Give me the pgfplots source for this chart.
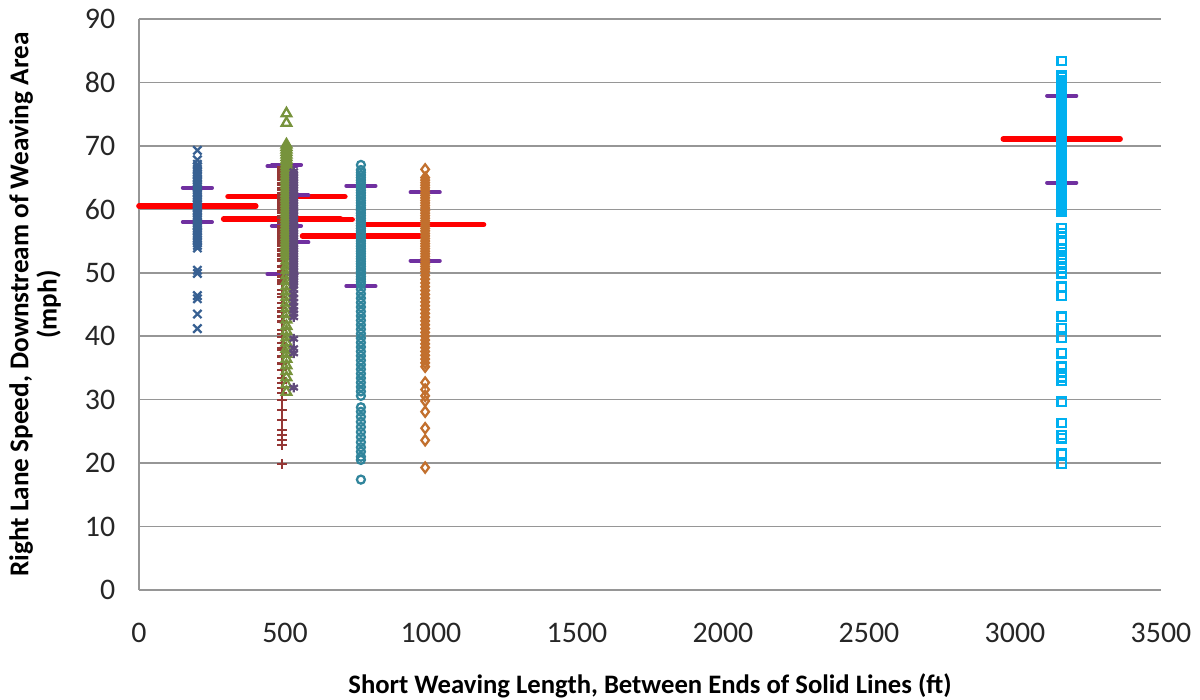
\documentclass[border=0pt]{standalone}
\usepackage{pgfplots}
\pgfplotsset{compat=1.18}
\usepackage{fontspec}
\setmainfont{Carlito}

\definecolor{sBlue}{HTML}{376092}
\definecolor{sMaroon}{HTML}{953735}
\definecolor{sGreen}{HTML}{77933C}
\definecolor{sPurple}{HTML}{604A7B}
\definecolor{sTeal}{HTML}{31859C}
\definecolor{sOrange}{RGB}{194,112,46}
\definecolor{sCyan}{HTML}{00B0F0}
\definecolor{pctPurple}{HTML}{7030A0}
\definecolor{gridGray}{RGB}{150,150,150}

\begin{document}
\begin{tikzpicture}
\useasboundingbox (-52.125pt,-41.25pt) rectangle (397.875pt,221.25pt);
\begin{axis}[
  at={(0,0)}, anchor=south west,
  scale only axis,
  width=383.25pt, height=214.125pt,
  xmin=0, xmax=3500, ymin=0, ymax=90,
  xtick={0,500,...,3500}, ytick={0,10,...,90},
  axis lines*=left,
  axis line style={gridGray, line width=0.6pt},
  ymajorgrids,
  grid style={gridGray, line width=0.6pt},
  major tick length=0pt,
  tick label style={font=\fontsize{11.2}{13}\selectfont, text=black!85},
  /pgf/number format/assume math mode=true,
  /pgf/number format/1000 sep={},
  xticklabel style={yshift=-9pt},
  yticklabel style={xshift=-5.4pt},
  xlabel={Short Weaving Length, Between Ends of Solid Lines (ft)},
  ylabel={Right Lane Speed, Downstream of Weaving Area\\(mph)},
  xlabel style={font=\bfseries\fontsize{10}{12}\selectfont, at={(axis description cs:0.5,0)}, anchor=center, yshift=-36pt},
  ylabel style={font=\bfseries\fontsize{10.2}{10.6}\selectfont, align=center, at={(axis description cs:0,0.5)}, anchor=center, yshift=39pt},
  clip=false,
  every axis plot/.append style={line width=0.85pt},
  meanline/.style={red, line width=2.1pt, line cap=round, no marks},
  pctline/.style={pctPurple, line width=1.5pt, line cap=round, no marks},
]

% 200 ft site
\addplot[only marks, mark=x, mark size=2.2pt, sBlue] coordinates {
(200,53.9)(200,54.3)(200,54.7)(200,55.1)(200,55.5)(200,55.9)(200,56.3)(200,56.7)(200,57.1)(200,57.5)
(200,57.9)(200,58.3)(200,58.7)(200,59.1)(200,59.5)(200,59.9)(200,60.3)(200,60.7)(200,61.1)(200,61.5)
(200,61.9)(200,62.3)(200,62.7)(200,63.1)(200,63.5)(200,63.9)(200,64.3)(200,64.7)(200,65.1)(200,65.5)
(200,65.9)(200,66.3)(200,66.7)(200,67.1)
(200,41.2)(200,43.5)(200,45.9)(200,46.4)(200,49.9)(200,50.4)(200,67.8)(200,69.3)
};

% 760 ft site
\addplot[only marks, mark=o, mark size=1.5pt, sTeal] coordinates {
(760,48.2)(760,48.6)(760,49.0)(760,49.4)(760,49.8)(760,50.2)(760,50.6)(760,51.0)(760,51.4)(760,51.8)
(760,52.2)(760,52.6)(760,53.0)(760,53.4)(760,53.8)(760,54.2)(760,54.6)(760,55.0)(760,55.4)(760,55.8)
(760,56.2)(760,56.6)(760,57.0)(760,57.4)(760,57.8)(760,58.2)(760,58.6)(760,59.0)(760,59.4)(760,59.8)
(760,60.2)(760,60.6)(760,61.0)(760,61.4)(760,61.8)(760,62.2)(760,62.6)(760,63.0)(760,63.4)(760,63.8)
(760,64.2)(760,64.6)(760,65.0)(760,65.4)(760,65.8)(760,66.2)
(760,30.6)(760,31.3)(760,32.0)(760,32.7)(760,33.4)(760,34.1)(760,34.8)(760,35.5)(760,36.2)(760,36.9)
(760,37.6)(760,38.3)(760,39.0)(760,39.7)(760,40.4)(760,41.1)(760,41.8)(760,42.5)(760,43.2)(760,43.9)
(760,44.6)(760,45.3)(760,46.0)(760,46.7)(760,47.4)
(760,67.0)(760,28.8)(760,28.1)(760,27.3)(760,26.5)(760,25.7)(760,24.9)(760,24.1)(760,23.3)(760,22.5)
(760,21.8)(760,21.0)(760,20.5)(760,17.4)
};

% 980 ft site
\addplot[only marks, mark=diamond, mark size=1.9pt, sOrange] coordinates {
(980,50.2)(980,50.6)(980,51.0)(980,51.4)(980,51.8)(980,52.2)(980,52.6)(980,53.0)(980,53.4)(980,53.8)
(980,54.2)(980,54.6)(980,55.0)(980,55.4)(980,55.8)(980,56.2)(980,56.6)(980,57.0)(980,57.4)(980,57.8)
(980,58.2)(980,58.6)(980,59.0)(980,59.4)(980,59.8)(980,60.2)(980,60.6)(980,61.0)(980,61.4)(980,61.8)
(980,62.2)(980,62.6)(980,63.0)(980,63.4)(980,63.8)(980,64.2)(980,64.6)(980,65.0)
(980,35.2)(980,35.8)(980,36.4)(980,37.0)(980,37.6)(980,38.2)(980,38.8)(980,39.4)(980,40.0)(980,40.6)
(980,41.2)(980,41.8)(980,42.4)(980,43.0)(980,43.6)(980,44.2)(980,44.8)(980,45.4)(980,46.0)(980,46.6)
(980,47.2)(980,47.8)(980,48.4)(980,49.0)(980,49.6)
(980,66.3)(980,32.7)(980,31.6)(980,30.6)(980,29.8)(980,28.1)(980,25.5)(980,23.6)(980,19.3)
};

% 3160 ft site
\addplot[only marks, mark=square, mark size=1.55pt, sCyan] coordinates {
(3160,59.6)(3160,60.0)(3160,60.4)(3160,60.8)(3160,61.2)(3160,61.6)(3160,62.0)(3160,62.4)(3160,62.8)(3160,63.2)
(3160,63.6)(3160,64.0)(3160,64.4)(3160,64.8)(3160,65.2)(3160,65.6)(3160,66.0)(3160,66.4)(3160,66.8)(3160,67.2)
(3160,67.6)(3160,68.0)(3160,68.4)(3160,68.8)(3160,69.2)(3160,69.6)(3160,70.0)(3160,70.4)(3160,70.8)(3160,71.2)
(3160,71.6)(3160,72.0)(3160,72.4)(3160,72.8)(3160,73.2)(3160,73.6)(3160,74.0)(3160,74.4)(3160,74.8)(3160,75.2)
(3160,75.6)(3160,76.0)(3160,76.4)(3160,76.8)(3160,77.2)(3160,77.6)(3160,78.0)(3160,78.4)(3160,78.8)(3160,79.2)
(3160,79.6)(3160,80.0)(3160,80.4)(3160,80.8)(3160,81.2)
(3160,83.4)(3160,57.0)(3160,56.2)(3160,55.2)(3160,53.8)(3160,53.3)(3160,52.8)(3160,52.3)(3160,51.5)(3160,50.7)
(3160,49.9)(3160,47.8)(3160,46.4)(3160,43.1)(3160,41.3)(3160,39.7)(3160,37.3)(3160,35.2)(3160,34.2)(3160,33.5)
(3160,33.0)(3160,29.7)(3160,26.3)(3160,24.4)(3160,23.9)(3160,21.5)(3160,19.9)
};

% 490 ft site
\addplot[only marks, mark=+, mark size=1.8pt, sMaroon] coordinates {
(490,52.2)(490,52.6)(490,53.0)(490,53.4)(490,53.8)(490,54.2)(490,54.6)(490,55.0)(490,55.4)(490,55.8)
(490,56.2)(490,56.6)(490,57.0)(490,57.4)(490,57.8)(490,58.2)(490,58.6)(490,59.0)(490,59.4)(490,59.8)
(490,60.2)(490,60.6)(490,61.0)(490,61.4)(490,61.8)(490,62.2)(490,62.6)(490,63.0)(490,63.4)(490,63.8)
(490,64.2)(490,64.6)(490,65.0)(490,65.4)(490,65.8)(490,66.2)(490,66.6)
(490,51.8)(490,51.0)(490,50.2)(490,49.4)(490,48.8)(490,48.3)(490,47.3)(490,46.6)(490,46.2)(490,45.2)
(490,44.5)(490,43.9)(490,43.1)(490,42.3)(490,41.0)(490,40.4)(490,39.9)(490,38.9)(490,38.2)(490,37.8)
(490,36.8)(490,35.7)(490,34.7)(490,33.4)(490,32.6)(490,31.8)(490,31.0)(490,29.9)(490,28.4)(490,26.8)
(490,25.2)(490,24.4)(490,23.6)(490,22.8)(490,19.9)
};

% mean speed of each site (red), 15th and 85th percentiles (purple)
\addplot[meanline] coordinates {(0,60.5)(400,60.5)};
\addplot[meanline] coordinates {(290,58.5)(690,58.5)};
\addplot[meanline] coordinates {(305,62.0)(705,62.0)};
\addplot[meanline] coordinates {(330,58.4)(730,58.4)};
\addplot[meanline] coordinates {(560,55.8)(960,55.8)};
\addplot[meanline] coordinates {(780,57.6)(1180,57.6)};
\addplot[meanline] coordinates {(2960,71.1)(3360,71.1)};

\addplot[pctline] coordinates {(150,63.4)(250,63.4)};
\addplot[pctline] coordinates {(150,58.0)(250,58.0)};
\addplot[pctline] coordinates {(440,66.8)(540,66.8)};
\addplot[pctline] coordinates {(440,49.8)(540,49.8)};
\addplot[pctline] coordinates {(455,67.0)(555,67.0)};
\addplot[pctline] coordinates {(455,57.4)(555,57.4)};
\addplot[pctline] coordinates {(480,62.2)(580,62.2)};
\addplot[pctline] coordinates {(480,54.8)(580,54.8)};
\addplot[pctline] coordinates {(710,63.7)(810,63.7)};
\addplot[pctline] coordinates {(710,47.9)(810,47.9)};
\addplot[pctline] coordinates {(930,62.7)(1030,62.7)};
\addplot[pctline] coordinates {(930,51.9)(1030,51.9)};
\addplot[pctline] coordinates {(3110,77.9)(3210,77.9)};
\addplot[pctline] coordinates {(3110,64.2)(3210,64.2)};

% 505 ft site
\addplot[only marks, mark=triangle, mark size=2.1pt, sGreen] coordinates {
(505,52.6)(505,53.0)(505,53.4)(505,53.8)(505,54.2)(505,54.6)(505,55.0)(505,55.4)(505,55.8)(505,56.2)
(505,56.6)(505,57.0)(505,57.4)(505,57.8)(505,58.2)(505,58.6)(505,59.0)(505,59.4)(505,59.8)(505,60.2)
(505,60.6)(505,61.0)(505,61.4)(505,61.8)(505,62.2)(505,62.6)(505,63.0)(505,63.4)(505,63.8)(505,64.2)
(505,64.6)(505,65.0)(505,65.4)(505,65.8)(505,66.2)(505,66.6)(505,67.0)(505,67.4)(505,67.8)(505,68.2)
(505,68.6)(505,69.0)(505,69.4)(505,69.8)(505,70.2)
(505,73.6)(505,75.1)
(505,51.9)(505,51.1)(505,50.4)(505,49.6)(505,48.7)(505,47.9)(505,47.0)(505,46.2)(505,45.3)(505,44.4)
(505,43.5)(505,42.6)(505,41.6)(505,40.8)(505,39.8)(505,39.0)(505,38.0)(505,37.2)(505,36.4)(505,35.4)
(505,34.5)(505,33.5)(505,32.4)(505,31.2)
};

% 530 ft site
\addplot[only marks, mark=asterisk, mark size=1.8pt, sPurple] coordinates {
(530,48.0)(530,48.4)(530,48.8)(530,49.2)(530,49.6)(530,50.0)(530,50.4)(530,50.8)(530,51.2)(530,51.6)
(530,52.0)(530,52.4)(530,52.8)(530,53.2)(530,53.6)(530,54.0)(530,54.4)(530,54.8)(530,55.2)(530,55.6)
(530,56.0)(530,56.4)(530,56.8)(530,57.2)(530,57.6)(530,58.0)(530,58.4)(530,58.8)(530,59.2)(530,59.6)
(530,60.0)(530,60.4)(530,60.8)(530,61.2)(530,61.6)(530,62.0)(530,62.4)(530,62.8)(530,63.2)(530,63.6)
(530,64.0)(530,64.4)(530,64.8)(530,65.2)(530,65.6)(530,66.0)
(530,47.4)(530,46.7)(530,46.0)(530,45.4)(530,44.7)(530,44.1)(530,43.6)(530,43.0)(530,39.6)(530,38.1)
(530,37.3)(530,31.9)
};

\end{axis}
\end{tikzpicture}
\end{document}
